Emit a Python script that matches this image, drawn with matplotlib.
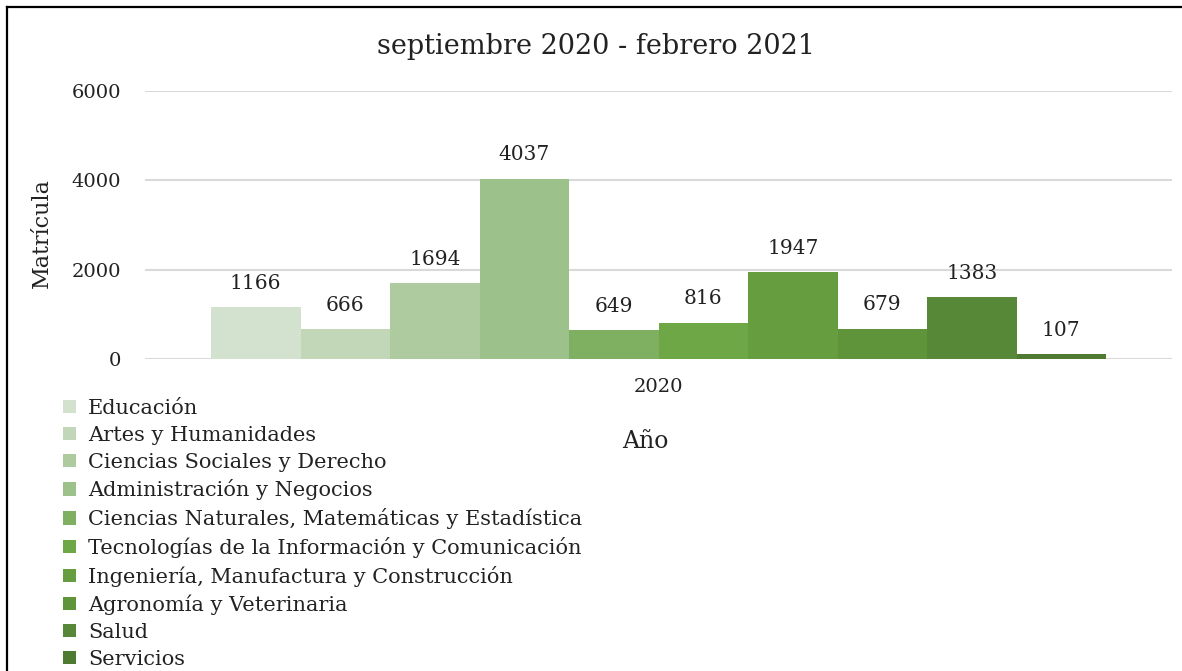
import matplotlib
matplotlib.use("Agg")
import matplotlib.pyplot as plt
from matplotlib.lines import Line2D
import numpy as np

plt.rcParams['font.family'] = ['DejaVu Serif']

title = "septiembre 2020 - febrero 2021"
category = "2020"
areas = [
    "Educación",
    "Artes y Humanidades",
    "Ciencias Sociales y Derecho",
    "Administración y Negocios",
    "Ciencias Naturales, Matemáticas y Estadística",
    "Tecnologías de la Información y Comunicación",
    "Ingeniería, Manufactura y Construcción",
    "Agronomía y Veterinaria",
    "Salud",
    "Servicios",
]
values = [1166, 666, 1694, 4037, 649, 816, 1947, 679, 1383, 107]
colors = ["#d3e2cf", "#c1d7b8", "#aecb9f", "#9cc18a", "#7fb062",
          "#6ea746", "#659d3f", "#5f943b", "#578838", "#4e7b31"]
yticks = [0, 2000, 4000, 6000]

W, H = 1182, 671
fig = plt.figure(figsize=(W / 100, H / 100), dpi=100)
ax = fig.add_axes([145 / W, (H - 359) / H, (1172 - 145) / W, (359 - 91) / H])

n = len(values)
group = 895 / 1027
bw = group / n
xs = -group / 2 + bw / 2 + np.arange(n) * bw
bars = []
for x, v, c, lab in zip(xs, values, colors, areas):
    b = ax.bar(x, v, width=bw, color=c, label=lab, zorder=2)
    bars.append(b)
    ax.text(x, v + 320, f"{v}", ha="center", va="bottom", fontsize=14.5, color="#222222")

ax.set_xlim(-0.5, 0.5)
ax.set_ylim(0, 6000)
ax.set_yticks(yticks)
ax.set_yticklabels([str(t) for t in yticks], fontsize=14, color="#222222")
ax.set_xticks([0])
ax.set_xticklabels([category], fontsize=14, color="#222222")
ax.tick_params(axis="both", length=0)
ax.tick_params(axis="y", pad=17)
ax.tick_params(axis="x", pad=14)
ax.grid(axis="y", color="#d9d9d9", linewidth=1.5, zorder=0)
for s in ax.spines.values():
    s.set_visible(False)

fig.text(645 / W, 1 - 442 / H, "Año", ha="center", va="center", fontsize=17, color="#222222")
fig.text(42 / W, 1 - 233 / H, "Matrícula", ha="center", va="center", rotation=90,
         fontsize=16, color="#222222")
fig.text(596 / W, 1 - 46 / H, title, ha="center", va="center", fontsize=19.5, color="#222222")

fig.legend(handles=[b[0] for b in bars], labels=areas, loc="upper left",
           bbox_to_anchor=(63 / W, 1 - 399 / H), frameon=False, fontsize=15,
           handlelength=0.6, handleheight=0.6, handletextpad=0.6,
           labelspacing=0.375, borderpad=0, borderaxespad=0, labelcolor="#222222")

fig.add_artist(Line2D([7 / W, 7 / W], [0, 1 - 6.5 / H], color="black", linewidth=1.6))
fig.add_artist(Line2D([7 / W, 1], [1 - 6.5 / H, 1 - 6.5 / H], color="black", linewidth=1.6))

fig.savefig("out.png", dpi=100)
